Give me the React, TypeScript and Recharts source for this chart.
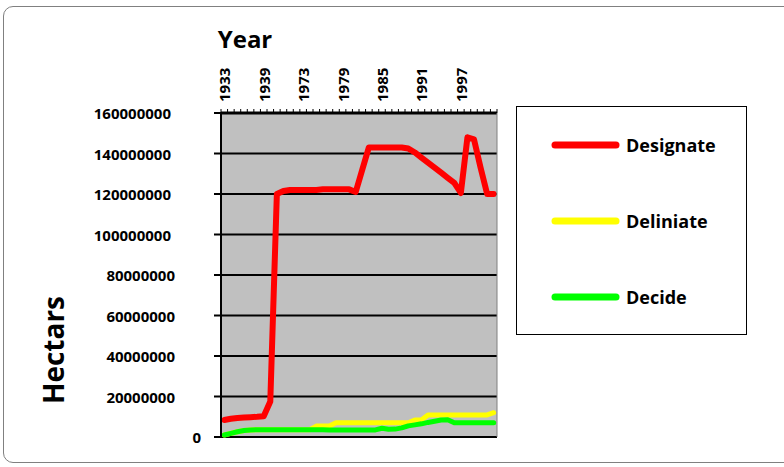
import React from 'react';
import { LineChart, Line, XAxis, YAxis, CartesianGrid, Legend } from 'recharts';

const categories = [
  '1933', '1934', '1935', '1936', '1937', '1938', '1939', '1942', '1950', '1960', '1964', '1968',
  '1973', '1974', '1975', '1976', '1977', '1978', '1979', '1980', '1981', '1982', '1983', '1984',
  '1985', '1986', '1987', '1988', '1989', '1990', '1991', '1992', '1993', '1994', '1995', '1996',
  '1997', '1998', '1999', '2000', '2001', '2002',
];

const seriesNames = ['Designate', 'Deliniate', 'Decide'];

// values in hectares
const designate = [
  8400000, 9000000, 9400000, 9600000, 9800000, 10000000, 10300000, 17500000, 120000000, 121500000, 122000000, 122000000,
  122000000, 122000000, 122000000, 122300000, 122300000, 122300000, 122300000, 122300000, 121000000, 132000000, 143000000, 143000000,
  143000000, 143000000, 143000000, 143000000, 142500000, 140500000, 138000000, 135500000, 133000000, 130500000, 128000000, 125500000,
  120500000, 148000000, 147000000, 133000000, 120000000, 120000000,
];

const deliniate = [
  1000000, 1800000, 2600000, 3200000, 3500000, 3600000, 3600000, 3600000, 3600000, 3600000, 3600000, 3600000,
  3600000, 3600000, 5400000, 5400000, 5400000, 7000000, 7000000, 7000000, 7000000, 7000000, 7000000, 7000000,
  7000000, 7000000, 7000000, 7000000, 7000000, 8400000, 8400000, 10900000, 10900000, 10900000, 10900000, 10900000,
  10900000, 10900000, 10900000, 10900000, 10900000, 12000000,
];

const decide = [
  1000000, 1800000, 2600000, 3200000, 3500000, 3600000, 3600000, 3600000, 3600000, 3600000, 3600000, 3600000,
  3600000, 3600000, 3600000, 3600000, 3500000, 3500000, 3500000, 3500000, 3500000, 3500000, 3500000, 3500000,
  4300000, 3800000, 3900000, 4500000, 5500000, 6000000, 6500000, 7200000, 7800000, 8400000, 8500000, 7000000,
  7000000, 7000000, 7000000, 7000000, 7000000, 7000000,
];

const yTicks = [0, 20000000, 40000000, 60000000, 80000000, 100000000, 120000000, 140000000, 160000000];
const labelEvery = 6;

const data = categories.map((year, i) => ({
  year,
  Designate: designate[i],
  Deliniate: deliniate[i],
  Decide: decide[i],
}));

const FONT = "'Open Sans', sans-serif";
const PLOT_LEFT = 221;
const PLOT_RIGHT = 497;
const PLOT_TOP = 113;
const PLOT_BOTTOM = 437;
const LEGEND_W = 231;
const LEGEND_H = 229;
const BAND = (PLOT_RIGHT - PLOT_LEFT) / categories.length;
const X_TICK_SIZE = 4;
const X_TICK_MARGIN = 7;

const XTick = (props: any) => {
  const { x, y, payload, index } = props;
  const axisY = y + X_TICK_SIZE + X_TICK_MARGIN;
  const left = x - BAND / 2;
  return (
    <g>
      <line x1={left} x2={left} y1={axisY} y2={axisY - 4} stroke="#000" strokeWidth={1} />
      {index === categories.length - 1 && (
        <line x1={x + BAND / 2} x2={x + BAND / 2} y1={axisY} y2={axisY - 4} stroke="#000" strokeWidth={1} />
      )}
      {index % labelEvery === 0 && (
        <text
          transform={`translate(${x},${axisY - 11}) rotate(-90)`}
          textAnchor="start"
          dominantBaseline="central"
          fontFamily={FONT}
          fontWeight={700}
          fontSize={15}
          fill="#000"
        >
          {payload.value}
        </text>
      )}
    </g>
  );
};

const YTick = (props: any) => {
  const { x, y, payload } = props;
  const s = String(payload.value);
  const off = payload.value === 0 ? 11 : s.length >= 9 ? 41 : 37;
  return (
    <text
      x={x - off}
      y={y}
      textAnchor="end"
      dominantBaseline="central"
      fontFamily={FONT}
      fontWeight={700}
      fontSize={15}
      fill="#000"
    >
      {s}
    </text>
  );
};

const LegendBox = (props: any) => {
  const payload = [...(props.payload || [])].sort(
    (a: any, b: any) => seriesNames.indexOf(a.value) - seriesNames.indexOf(b.value)
  );
  return (
    <svg width={LEGEND_W} height={LEGEND_H} style={{ display: 'block' }}>
      <rect x={0.5} y={0.5} width={LEGEND_W - 1} height={LEGEND_H - 1} fill="#fff" stroke="#000" strokeWidth={1} />
      {payload.map((p: any, i: number) => {
        const cy = 39 + i * 76;
        return (
          <g key={p.value}>
            <line x1={39} x2={100} y1={cy} y2={cy} stroke={p.color} strokeWidth={7} strokeLinecap="round" />
            <text
              x={110}
              y={cy}
              dominantBaseline="central"
              fontFamily={FONT}
              fontWeight={700}
              fontSize={18}
              fill="#000"
            >
              {p.value}
            </text>
          </g>
        );
      })}
    </svg>
  );
};

export default function App() {
  return (
    <div style={{ position: 'absolute', left: 0, top: 0, width: 784, height: 467, background: '#fff', overflow: 'hidden' }}>
      <div
        style={{
          position: 'absolute',
          left: 3,
          top: 6,
          width: 800,
          height: 455,
          border: '1px solid #808080',
          borderRadius: 10,
        }}
      />
      <LineChart
        width={784}
        height={467}
        data={data}
        margin={{ top: 20, right: 784 - PLOT_RIGHT - 1 - LEGEND_W, bottom: 467 - PLOT_BOTTOM, left: 0 }}
        style={{ position: 'absolute', left: 0, top: 0 }}
      >
        <CartesianGrid
          vertical={false}
          horizontal
          stroke="#000"
          strokeWidth={2}
          fill="#c0c0c0"
          fillOpacity={1}
        />
        <XAxis
          dataKey="year"
          orientation="top"
          scale="band"
          interval={0}
          height={PLOT_TOP - 20}
          tickSize={X_TICK_SIZE}
          tickMargin={X_TICK_MARGIN}
          tickLine={false}
          tick={<XTick />}
          axisLine={{ stroke: '#000', strokeWidth: 3 }}
          label={(p: any) => {
            const vb = p.viewBox || { x: PLOT_LEFT, y: 20 };
            return (
              <text
                x={vb.x + 24}
                y={vb.y + 28}
                textAnchor="middle"
                fontFamily={FONT}
                fontWeight={700}
                fontSize={24}
                fill="#000"
              >
                Year
              </text>
            );
          }}
        />
        <YAxis
          width={PLOT_LEFT}
          domain={[0, 160000000]}
          ticks={yTicks}
          interval={0}
          tickSize={7}
          tickMargin={2}
          tick={<YTick />}
          tickLine={{ stroke: '#000', strokeWidth: 2 }}
          axisLine={{ stroke: '#000', strokeWidth: 2 }}
          label={(p: any) => {
            const vb = p.viewBox || { x: 0, y: PLOT_TOP, height: PLOT_BOTTOM - PLOT_TOP };
            return (
              <text
                transform={`translate(${vb.x + 53},${vb.y + 237}) rotate(-90)`}
                textAnchor="middle"
                dominantBaseline="central"
                fontFamily={FONT}
                fontWeight={700}
                fontSize={28}
                fill="#000"
              >
                Hectars
              </text>
            );
          }}
        />
        <YAxis
          yAxisId="r"
          orientation="right"
          width={1}
          domain={[0, 1]}
          tick={false}
          tickLine={false}
          axisLine={{ stroke: '#808080', strokeWidth: 1 }}
        />
        <Line
          type="linear"
          dataKey="Designate"
          stroke="#ff0000"
          strokeWidth={6}
          dot={false}
          strokeLinejoin="round"
          strokeLinecap="round"
          isAnimationActive={false}
        />
        <Line
          type="linear"
          dataKey="Deliniate"
          stroke="#ffff00"
          strokeWidth={5}
          dot={false}
          strokeLinejoin="round"
          strokeLinecap="round"
          isAnimationActive={false}
        />
        <Line
          type="linear"
          dataKey="Decide"
          stroke="#00ff00"
          strokeWidth={5}
          dot={false}
          strokeLinejoin="round"
          strokeLinecap="round"
          isAnimationActive={false}
        />
        <Legend
          layout="vertical"
          align="right"
          verticalAlign="top"
          content={<LegendBox />}
          wrapperStyle={{ position: 'absolute', left: 516, top: 106, width: LEGEND_W, height: LEGEND_H }}
        />
      </LineChart>
    </div>
  );
}
